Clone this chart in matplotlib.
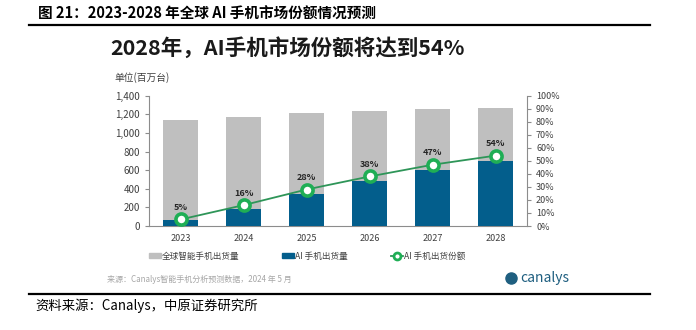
import numpy as np
import matplotlib.pyplot as plt
from matplotlib.lines import Line2D
from matplotlib.patches import Patch

plt.rcParams['font.family'] = ['Noto Sans CJK SC', 'DejaVu Sans']

years = ['2023', '2024', '2025', '2026', '2027', '2028']
total_shipments = [1135, 1174, 1214, 1238, 1253, 1271]   # 全球智能手机出货量
ai_shipments = [61, 186, 340, 480, 601, 698]              # AI 手机出货量
ai_share = [5, 16, 28, 38, 47, 54]                        # AI 手机出货份额 (%)

grey = '#bfbfbf'
blue = '#035e8c'
green_line = '#2e9558'
green_mk = '#1fae55'
axis_col = '#8c8c8c'
txt = '#404040'

fig = plt.figure(figsize=(6.96, 3.3), dpi=100)
ax = fig.add_axes([149/696, 1-226/330, (527-149)/696, (226-95.7)/330])
x = np.arange(len(years))
ax.bar(x, total_shipments, width=0.57, color=grey, zorder=2)
ax.bar(x, ai_shipments, width=0.57, color=blue, zorder=3)
ax.set_xlim(-0.5, 5.5)
ax.set_ylim(0, 1400)
ax.set_yticks(range(0, 1401, 200))
ax.set_yticklabels([f'{v:,}' for v in range(0, 1401, 200)])
ax.set_xticks(x)
ax.set_xticklabels(years)
ax.tick_params(axis='x', length=0, labelsize=6.5, colors=txt, pad=6)
ax.tick_params(axis='y', length=3, labelsize=7, colors=txt, color=axis_col, width=0.8)
for s in ['top', 'right']:
    ax.spines[s].set_visible(False)
for s in ['left', 'bottom']:
    ax.spines[s].set_color(axis_col)
    ax.spines[s].set_linewidth(0.8)

ax2 = ax.twinx()
ax2.set_ylim(0, 100)
ax2.set_yticks(range(0, 101, 10))
ax2.set_yticklabels([f'{v}%' for v in range(0, 101, 10)])
ax2.tick_params(axis='y', length=3, labelsize=6.5, colors=txt, color=axis_col, width=0.8)
for s in ['top', 'left', 'bottom']:
    ax2.spines[s].set_visible(False)
ax2.spines['right'].set_color(axis_col)
ax2.spines['right'].set_linewidth(0.8)
ax2.plot(x, ai_share, color=green_line, lw=1.3, marker='o', markersize=8,
         markerfacecolor='white', markeredgecolor=green_mk, markeredgewidth=2.6, zorder=5)
for xi, v in zip(x, ai_share):
    ax2.annotate(f'{v}%', (xi, v), xytext=(0, 5.5), textcoords='offset points',
                 ha='center', va='bottom', fontsize=6.5, fontweight='bold', color='#262626')

# legend
handles = [Patch(color=grey), Patch(color=blue),
           Line2D([0], [0], color=green_line, lw=1.3, marker='o', markersize=5,
                  markerfacecolor='white', markeredgecolor=green_mk, markeredgewidth=2)]
labels = ['全球智能手机出货量', 'AI 手机出货量', 'AI 手机出货份额']
fig.legend(handles, labels, loc='center left', bbox_to_anchor=(141/696, 1-256/330),
           ncol=3, frameon=False, fontsize=6.2, handlelength=1.4, handleheight=0.6,
           handletextpad=0.1, columnspacing=5.0, labelcolor=txt)

# titles and notes
fig.text(38/696, 1-14/330, '图 21：2023-2028 年全球 AI 手机市场份额情况预测',
         fontsize=10.5, fontweight='bold', va='center', ha='left')
fig.add_artist(Line2D([29/696, 650/696], [1-25/330, 1-25/330], color='black', lw=1.6))
fig.text(110/696, 1-48/330, '2028年，AI手机市场份额将达到54%',
         fontsize=15.5, fontweight='bold', va='center', ha='left', color='#1a1a1a')
fig.text(114/696, 1-78/330, '单位(百万台)', fontsize=7, va='center', ha='left', color=txt)
fig.text(107/696, 1-279/330, '来源：Canalys智能手机分析预测数据，2024 年 5 月',
         fontsize=5.8, va='center', ha='left', color='#a6a6a6')
fig.text(520/696, 1-278/330, 'canalys', fontsize=10, va='center', ha='left', color='#1f5f80')
fig.add_artist(Line2D([511/696], [1-278/330], marker='o', markersize=8, color='#1f5f80'))
fig.add_artist(Line2D([29/696, 650/696], [1-294/330, 1-294/330], color='black', lw=1.6))
fig.text(35/696, 1-306/330, '资料来源：Canalys，中原证券研究所',
         fontsize=9.6, va='center', ha='left')

fig.savefig('out.png', dpi=100)
